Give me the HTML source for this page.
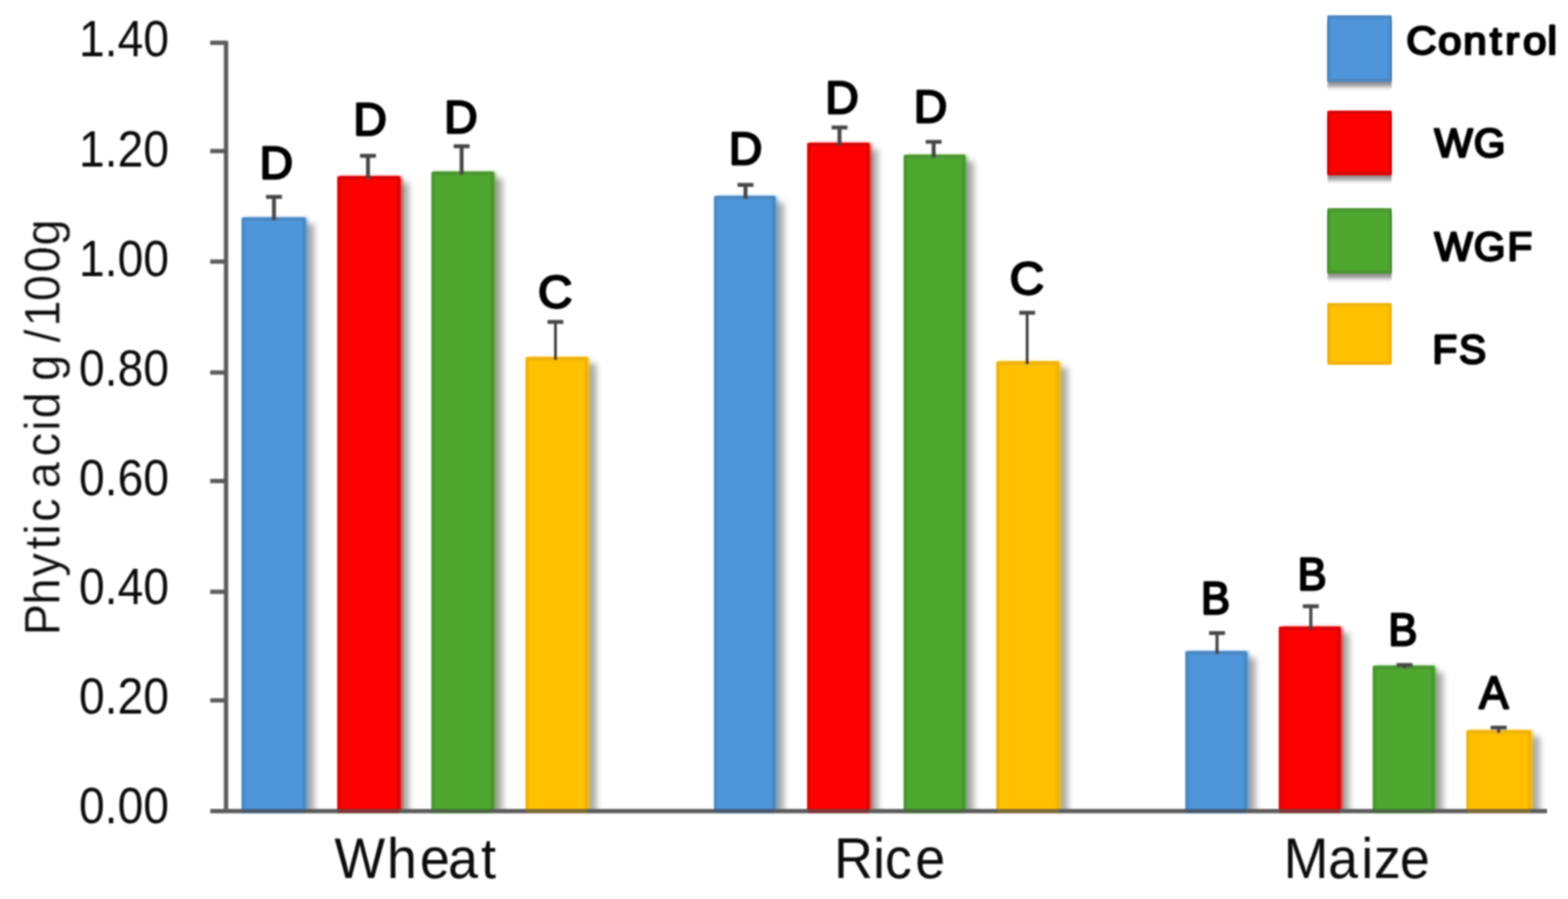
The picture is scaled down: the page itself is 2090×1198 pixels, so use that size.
<!DOCTYPE html>
<html lang="en"><head><meta charset="utf-8"><title>Phytic acid content</title>
<style>
html,body{margin:0;padding:0;background:#fff;}
body{width:2090px;height:1198px;overflow:hidden;}
svg{display:block;}
text{font-family:"Liberation Sans",sans-serif;}
.tick{font-size:68px;fill:#0c0c0c;}
.cat{font-size:75.5px;fill:#0c0c0c;}
.let{font-size:61.8px;fill:#000;stroke:#000;stroke-width:2.8px;stroke-linejoin:round;}
.leg2{font-size:54px;}
.leg{font-size:52px;fill:#000;stroke:#000;stroke-width:3px;stroke-linejoin:round;}
.ytitle{font-size:66px;fill:#0c0c0c;stroke:#fff;stroke-width:0.4px;}
</style></head><body>
<svg width="2090" height="1198" viewBox="0 0 2090 1198">
<defs>
<filter id="sh" color-interpolation-filters="sRGB" x="-2%" y="-2%" width="104%" height="104%" filterUnits="objectBoundingBox"><feGaussianBlur in="SourceAlpha" stdDeviation="4.5"/><feOffset dx="12" dy="8"/><feComponentTransfer result="s"><feFuncA type="linear" slope="0.34"/></feComponentTransfer><feGaussianBlur in="SourceGraphic" stdDeviation="2.4"/><feOffset dx="2.6" dy="0"/><feComponentTransfer result="m"><feFuncA type="linear" slope="0.75"/></feComponentTransfer><feGaussianBlur in="SourceGraphic" stdDeviation="1.4" result="g"/><feMerge><feMergeNode in="s"/><feMergeNode in="m"/><feMergeNode in="g"/></feMerge></filter>
<filter id="shl" color-interpolation-filters="sRGB" x="-10%" y="-10%" width="120%" height="130%"><feGaussianBlur in="SourceAlpha" stdDeviation="1.2 3"/><feOffset dx="0" dy="7"/><feComponentTransfer result="s"><feFuncA type="linear" slope="0.45"/></feComponentTransfer><feGaussianBlur in="SourceGraphic" stdDeviation="1.4" result="g"/><feMerge><feMergeNode in="s"/><feMergeNode in="g"/></feMerge></filter>
<filter id="soft2" color-interpolation-filters="sRGB" x="-2%" y="-2%" width="104%" height="104%"><feGaussianBlur stdDeviation="1.3"/></filter>
<filter id="soft3" color-interpolation-filters="sRGB" x="-5%" y="-5%" width="110%" height="110%"><feGaussianBlur stdDeviation="1.4"/></filter>
<filter id="soft" color-interpolation-filters="sRGB" x="-5%" y="-5%" width="110%" height="110%"><feGaussianBlur stdDeviation="1.05"/></filter>
<clipPath id="plot"><rect x="300" y="0" width="1790" height="1081.5"/></clipPath>
</defs>
<rect x="0" y="0" width="2090" height="1198" fill="#ffffff"/>
<g clip-path="url(#plot)">
<g id="bars" filter="url(#sh)">
<rect x="322.6" y="290.3" width="84.3" height="802.7" fill="#4e95d9"/>
<rect x="450.2" y="235.3" width="82.8" height="857.7" fill="#ff0000"/>
<rect x="575.6" y="229.3" width="82.3" height="863.7" fill="#4ea72e"/>
<rect x="701.0" y="476.4" width="81.9" height="616.6" fill="#ffc000"/>
<rect x="952.4" y="261.7" width="80.6" height="831.3" fill="#4e95d9"/>
<rect x="1076.6" y="190.9" width="81.8" height="902.1" fill="#ff0000"/>
<rect x="1205.2" y="206.8" width="80.8" height="886.2" fill="#4ea72e"/>
<rect x="1328.6" y="482.1" width="82.8" height="610.9" fill="#ffc000"/>
<rect x="1580.6" y="868.3" width="81.1" height="224.7" fill="#4e95d9"/>
<rect x="1705.2" y="835.6" width="81.2" height="257.4" fill="#ff0000"/>
<rect x="1830.4" y="887.7" width="81.2" height="205.3" fill="#4ea72e"/>
<rect x="1955.2" y="973.6" width="85.2" height="119.4" fill="#ffc000"/>
</g>
<g id="baredges" fill="none" stroke-width="3.5" filter="url(#soft2)">
<rect x="324.4" y="292.1" width="80.8" height="800.7" stroke="#4b86bd"/>
<rect x="452.0" y="237.1" width="79.3" height="855.7" stroke="#d00808"/>
<rect x="577.4" y="231.1" width="78.8" height="861.7" stroke="#4b9234"/>
<rect x="702.8" y="478.1" width="78.4" height="614.6" stroke="#ecb010"/>
<rect x="954.1" y="263.4" width="77.1" height="829.3" stroke="#4b86bd"/>
<rect x="1078.3" y="192.7" width="78.3" height="900.1" stroke="#d00808"/>
<rect x="1206.9" y="208.6" width="77.3" height="884.2" stroke="#4b9234"/>
<rect x="1330.3" y="483.9" width="79.3" height="608.9" stroke="#ecb010"/>
<rect x="1582.3" y="870.0" width="77.6" height="222.7" stroke="#4b86bd"/>
<rect x="1706.9" y="837.4" width="77.7" height="255.4" stroke="#d00808"/>
<rect x="1832.1" y="889.5" width="77.7" height="203.3" stroke="#4b9234"/>
<rect x="1956.9" y="975.4" width="81.7" height="117.4" stroke="#ecb010"/>
</g>
</g>
<g filter="url(#soft)">
<g id="errors" stroke="#464646" stroke-width="5.2" fill="none">
<path d="M365.2 293.3 V262.3 M354.6 262.3 H375.8"/>
<path d="M490.5 238.3 V207.6 M479.9 207.6 H501.1"/>
<path d="M615.3 232.3 V194.8 M604.7 194.8 H625.9"/>
<path d="M740.4 479.4 V429.0" stroke="#303030" stroke-width="3.4"/><path d="M729.8 429.0 H751.0"/>
<path d="M993.7 264.7 V246.4 M983.1 246.4 H1004.3"/>
<path d="M1119.0 193.9 V169.9 M1108.4 169.9 H1129.6"/>
<path d="M1244.5 209.8 V189.0 M1233.9 189.0 H1255.1"/>
<path d="M1369.1 485.1 V416.8" stroke="#303030" stroke-width="3.4"/><path d="M1358.5 416.8 H1379.7"/>
<path d="M1622.2 871.3 V843.6" stroke-width="4.2"/><path d="M1611.6 843.6 H1632.8"/>
<path d="M1747.2 838.6 V807.9" stroke-width="4.2"/><path d="M1736.6 807.9 H1757.8"/>
<path d="M1872.1 890.7 V886.2" stroke-width="4.2"/><path d="M1861.5 886.2 H1882.7"/>
<path d="M1997.6 976.6 V969.7" stroke-width="4.2"/><path d="M1987.0 969.7 H2008.2"/>
</g>
<g id="axes" stroke="#5c5c5c" stroke-width="5.8" fill="none">
<path d="M301.3 54.5 V1081"/>
<path d="M280.2 1080.8 H2062"/>
<path d="M280.2 57.0 H301.3"/>
<path d="M280.2 201.3 H301.3"/>
<path d="M280.2 348.6 H301.3"/>
<path d="M280.2 496.4 H301.3"/>
<path d="M280.2 641.0 H301.3"/>
<path d="M280.2 788.6 H301.3"/>
<path d="M280.2 933.3 H301.3"/>
</g>
<g id="axistint" stroke-width="5.8" fill="none" opacity="0.4">
<path d="M323.0 1080.8 H406.5" stroke="#2a5a96"/>
<path d="M450.6 1080.8 H532.6" stroke="#b00000"/>
<path d="M576.0 1080.8 H657.5" stroke="#2f7a14"/>
<path d="M701.4 1080.8 H782.5" stroke="#b08000"/>
<path d="M952.8 1080.8 H1032.6" stroke="#2a5a96"/>
<path d="M1077.0 1080.8 H1158.0" stroke="#b00000"/>
<path d="M1205.6 1080.8 H1285.6" stroke="#2f7a14"/>
<path d="M1329.0 1080.8 H1411.0" stroke="#b08000"/>
<path d="M1581.0 1080.8 H1661.3" stroke="#2a5a96"/>
<path d="M1705.6 1080.8 H1786.0" stroke="#b00000"/>
<path d="M1830.8 1080.8 H1911.2" stroke="#2f7a14"/>
<path d="M1955.6 1080.8 H2040.0" stroke="#b08000"/>
</g>
<g id="ticklabels" class="tick">
<text x="105.3" y="75.2" textLength="120" lengthAdjust="spacingAndGlyphs">1.40</text>
<text x="105.3" y="221.8" textLength="120" lengthAdjust="spacingAndGlyphs">1.20</text>
<text x="105.3" y="367.8" textLength="120" lengthAdjust="spacingAndGlyphs">1.00</text>
<text x="105.3" y="513.8" textLength="120" lengthAdjust="spacingAndGlyphs">0.80</text>
<text x="105.3" y="660.0" textLength="120" lengthAdjust="spacingAndGlyphs">0.60</text>
<text x="105.3" y="805.1" textLength="120" lengthAdjust="spacingAndGlyphs">0.40</text>
<text x="105.3" y="950.9" textLength="120" lengthAdjust="spacingAndGlyphs">0.20</text>
<text x="105.3" y="1096.7" textLength="120" lengthAdjust="spacingAndGlyphs">0.00</text>
</g>
<text x="3.5 46.6 85.9 124.0 144.7 162.8 195.8 209.8 254.7 290.3 307.7 344.4 360.4 397.1 414.3 436.8 472.2 512.4 550.3" y="0.0" transform="translate(79.3 850.0) rotate(-90) scale(0.950 1)" class="ytitle">Phytic acid g /100g</text>
<g id="cats" class="cat">
<text x="469.3 543.0 589.2 628.7 674.9" y="1170.2" transform="scale(0.950 1)">Wheat</text>
<text x="1170.3 1224.9 1241.7 1284.3" y="1170.2" transform="scale(0.950 1)">Rice</text>
<text x="1801.1 1863.3 1909.9 1927.6 1964.1" y="1170.2" transform="scale(0.950 1)">Maize</text>
</g>
<g id="letters" class="let">
<text x="346.1" y="237.7">D</text>
<text x="470.9" y="180.3">D</text>
<text x="592.1" y="177.1">D</text>
<text x="696.2" y="410.1" transform="scale(1.030 1)">C</text>
<text x="971.4" y="219.1">D</text>
<text x="1100.0" y="150.6">D</text>
<text x="1217.9" y="163.4">D</text>
<text x="1306.6" y="392.1" transform="scale(1.030 1)">C</text>
<text x="1703.0" y="817.9" transform="scale(0.940 1)">B</text>
<text x="1839.8" y="785.9" transform="scale(0.940 1)">B</text>
<text x="1968.7" y="859.9" transform="scale(0.940 1)">B</text>
<text x="2075.3" y="944.0" transform="scale(0.950 1)">A</text>
</g>
<g id="legend">
<g class="leg">
<text x="1751.8 1791.5 1823.0 1856.1 1875.2 1897.4 1927.9" y="72.5" transform="scale(1.070 1)">Control</text>
<text x="1912.0 1964.4" y="209.2" class="leg2">WG</text>
<text x="1912.1 1964.4 2009.3" y="346.9" class="leg2">WGF</text>
<text x="1909.2 1944.8" y="484.4" class="leg2">FS</text>
</g>
</g>
</g>
<rect x="1769.6" y="21.0" width="85.2" height="87.5" fill="#4e95d9" filter="url(#shl)"/>
<rect x="1769.6" y="148.0" width="85.2" height="85.0" fill="#ff0000" filter="url(#shl)"/>
<rect x="1769.6" y="278.0" width="85.2" height="86.0" fill="#4ea72e" filter="url(#shl)"/>
<rect x="1769.6" y="404.5" width="85.2" height="81.0" fill="#ffc000" filter="url(#soft3)"/>
<g id="swatchedges" fill="none" stroke-width="3.5" filter="url(#soft2)">
<rect x="1771.3" y="22.8" width="81.7" height="84.0" stroke="#4b86bd"/>
<rect x="1771.3" y="149.8" width="81.7" height="81.5" stroke="#d00808"/>
<rect x="1771.3" y="279.8" width="81.7" height="82.5" stroke="#4b9234"/>
<rect x="1771.3" y="406.2" width="81.7" height="77.5" stroke="#ecb010"/>
</g>
</svg>
</body></html>
